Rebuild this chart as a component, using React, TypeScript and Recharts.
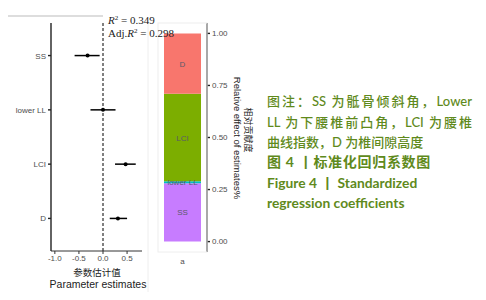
import {
  Bar,
  BarChart,
  ErrorBar,
  LabelList,
  ReferenceLine,
  Scatter,
  ScatterChart,
  XAxis,
  YAxis,
} from "recharts"

// forest plot values (standardized coefficients with 95% CI)
const terms = ["SS", "lower LL", "LCI", "D"]
const estimates = [-0.32, 0.0, 0.47, 0.31]
const ciLow = [-0.59, -0.26, 0.25, 0.14]
const ciHigh = [-0.07, 0.26, 0.68, 0.5]
const xTicks = [-1, -0.5, 0, 0.5]

// relative effect of each term (stacked bar)
const barKeys = ["SS", "lowerLL", "LCI", "D"]
const relEffect = [0.28, 0.01, 0.42, 0.29]
const barColors = ["#C77CFF", "#00BFC4", "#7CAE00", "#F8766D"]
const pctTicks = [0, 0.25, 0.5, 0.75, 1]

const captionLines = [
  "图注：SS 为骶骨倾斜角，Lower",
  "LL 为下腰椎前凸角，LCI 为腰椎",
  "曲线指数，D 为椎间隙高度",
  "图 4 丨标准化回归系数图",
  "Figure 4 丨 Standardized",
  "regression coefficients",
]
const captionY = [101, 122, 142, 162, 183, 203]

const forestData = terms.map((t, i) => ({
  row: i + 1,
  est: estimates[i],
  err: [estimates[i] - ciLow[i], ciHigh[i] - estimates[i]],
}))

const barRow: Record<string, any> = { name: "a" }
barKeys.forEach((k, i) => {
  barRow[k] = relEffect[i]
})
const barData = [barRow]

const sans = "Liberation Sans, Arial"
const tickStyle = { fontSize: 8, fill: "#4d4d4d", fontFamily: sans }

const Dot = (props: any) => <circle cx={props.cx} cy={props.cy} r={2} fill="#000" />

const TermTick = ({ x, y, payload }: any) => (
  <text x={x} y={y} dy={3} textAnchor="end" fontSize={8} fill="#4d4d4d" fontFamily={sans}>
    {terms[payload.value - 1]}
  </text>
)

const segLabel = (name: string) => (p: any) =>
  (
    <text
      x={p.x + p.width / 2}
      y={p.y + p.height / 2}
      dy={3}
      textAnchor="middle"
      fontSize={8}
      fill="#5a5a6a"
      fontFamily={sans}
    >
      {name}
    </text>
  )

export default function App() {
  return (
    <div
      style={{
        position: "absolute",
        left: 0,
        top: 0,
        width: 486,
        height: 300,
        background: "#fff",
        overflow: "hidden",
      }}
    >
      <div style={{ position: "absolute", left: 0, top: 0 }}>
        <ScatterChart
          width={160}
          height={300}
          margin={{ top: 23, right: 18, left: 0, bottom: 29 }}
        >
          <XAxis
            type="number"
            dataKey="est"
            domain={[-1.08, 0.81]}
            ticks={xTicks}
            tickFormatter={(v) => v.toFixed(1)}
            tick={tickStyle}
            tickSize={3}
            tickMargin={1}
            height={20}
            stroke="#333"
            allowDataOverflow
          />
          <YAxis
            type="number"
            dataKey="row"
            domain={[0.4, 4.6]}
            reversed
            ticks={[1, 2, 3, 4]}
            tick={<TermTick />}
            tickSize={3}
            width={51}
            stroke="#222"
            strokeWidth={1.4}
            allowDataOverflow
          />
          <ReferenceLine x={0} stroke="#000" strokeDasharray="3 2" />
          <Scatter data={forestData} shape={Dot} isAnimationActive={false}>
            <ErrorBar
              dataKey="err"
              direction="x"
              width={0}
              stroke="#000"
              strokeWidth={1.5}
              isAnimationActive={false}
            />
          </Scatter>
        </ScatterChart>
      </div>

      <div style={{ position: "absolute", left: 140, top: 0 }}>
        <BarChart
          width={120}
          height={300}
          data={barData}
          margin={{ top: 23, right: 0, left: 18, bottom: 28 }}
          barCategoryGap={6}
        >
          <XAxis
            dataKey="name"
            tick={tickStyle}
            axisLine={false}
            tickLine={false}
            tickSize={4}
            height={20}
          />
          <YAxis
            orientation="right"
            type="number"
            domain={[-0.05, 1.05]}
            ticks={pctTicks}
            tickFormatter={(v) => v.toFixed(2)}
            tick={tickStyle}
            tickSize={3}
            width={53}
            stroke="#222"
            strokeWidth={1.4}
            allowDataOverflow
          />
          {barKeys.map((k, i) => (
            <Bar
              key={k}
              dataKey={k}
              stackId="a"
              fill={barColors[i]}
              isAnimationActive={false}
            >
              <LabelList dataKey={k} content={segLabel(terms[i])} />
            </Bar>
          ))}
        </BarChart>
      </div>

      <svg
        width={486}
        height={300}
        style={{ position: "absolute", left: 0, top: 0, pointerEvents: "none" }}
      >
        <line x1={8} y1={16} x2={103} y2={16} stroke="#bbb" strokeWidth={1} />
        <line x1={148} y1={20} x2={148} y2={292} stroke="#eee" strokeWidth={1} />
        <rect x={158} y={23} width={49} height={229} fill="none" stroke="#eee" />
        <text x={108} y={24} fontSize={11} fontFamily="Liberation Serif, serif" fill="#222">
          <tspan fontStyle="italic">R</tspan>
          <tspan fontSize={7} dy={-4}>2</tspan>
          <tspan dy={4}> = 0.349</tspan>
        </text>
        <text x={108} y={37} fontSize={11} fontFamily="Liberation Serif, serif" fill="#222">
          Adj.<tspan fontStyle="italic">R</tspan>
          <tspan fontSize={7} dy={-4}>2</tspan>
          <tspan dy={4}> = 0.298</tspan>
        </text>
        <text
          x={97}
          y={275.5}
          textAnchor="middle"
          fontSize={9.5}
          fontFamily="Noto Sans CJK SC"
          fill="#222"
        >
          参数估计值
        </text>
        <text
          x={98}
          y={288}
          textAnchor="middle"
          fontSize={10.5}
          fontFamily={sans}
          fill="#222"
        >
          Parameter estimates
        </text>
        <g transform="translate(237,138) rotate(90)">
          <text
            x={0}
            y={3}
            textAnchor="middle"
            fontSize={9.5}
            fontFamily={sans}
            fill="#222"
          >
            Relative effect of estimates%
          </text>
          <text
            x={-8}
            y={-8}
            textAnchor="middle"
            fontSize={9}
            fontFamily="Noto Sans CJK SC"
            fill="#222"
          >
            相对贡献度
          </text>
        </g>
      </svg>

      {captionLines.map((line, i) => (
        <div
          key={i}
          style={{
            position: "absolute",
            left: 267,
            top: captionY[i] - 10,
            width: i < 2 ? 205 : undefined,
            height: 20,
            lineHeight: "20px",
            fontSize: i === 3 ? 14 : i > 3 ? 13.8 : 13,
            letterSpacing: i === 3 ? 0.7 : 0,
            fontWeight: i < 3 ? 500 : 700,
            fontFamily: "Lato, 'Noto Sans CJK SC'",
            color: "#5f8a1c",
            whiteSpace: "nowrap",
            textAlign: i < 2 ? "justify" : "left",
            textAlignLast: i < 2 ? "justify" : "auto",
          }}
        >
          {line}
        </div>
      ))}
    </div>
  )
}
